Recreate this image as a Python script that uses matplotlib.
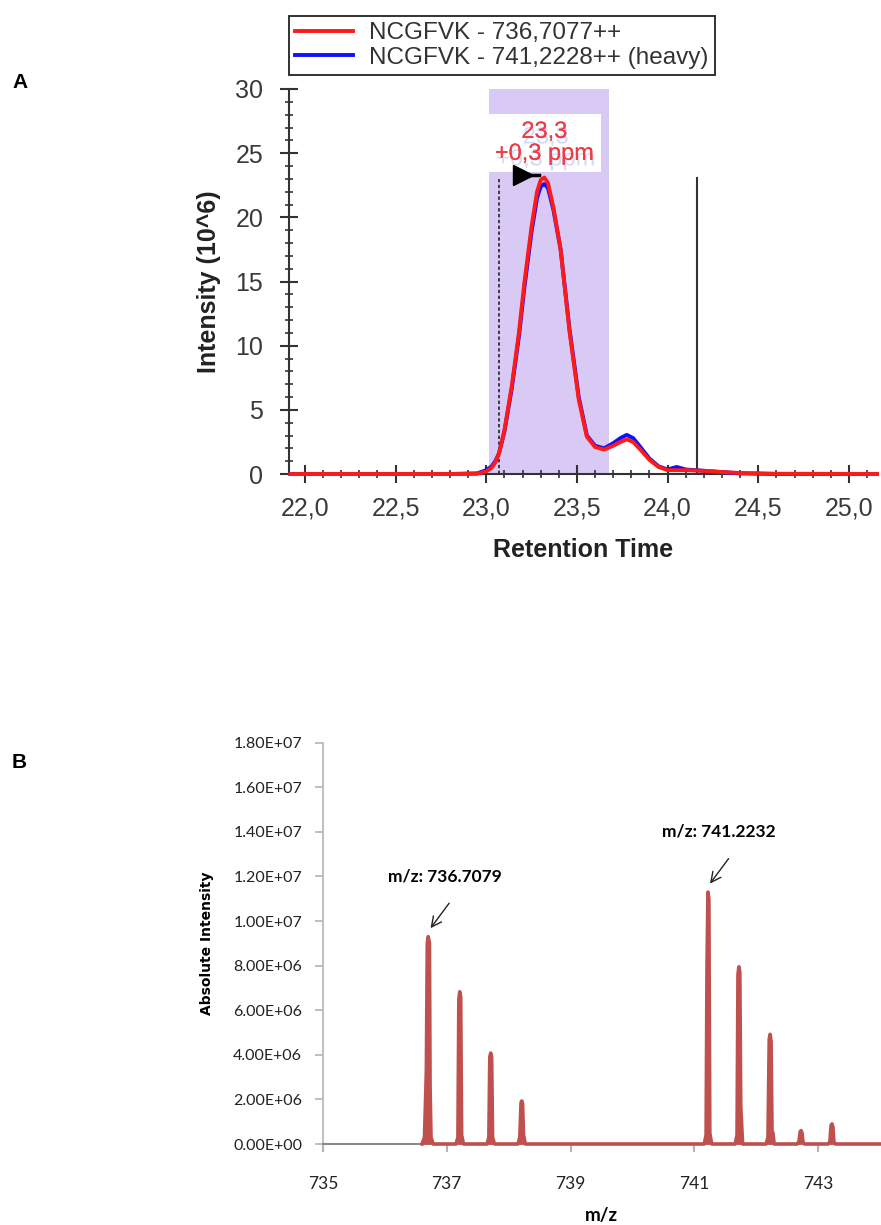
import numpy as np
import matplotlib.pyplot as plt
import matplotlib.patheffects as pe
from matplotlib.ticker import MultipleLocator, FuncFormatter

plt.rcParams['font.family'] = ['Liberation Sans', 'DejaVu Sans']

# ---------------- panel A : extracted ion chromatogram ----------------
rt = [21.92, 22.2, 22.5, 22.8, 22.95, 23.0, 23.03, 23.05, 23.07, 23.1, 23.14, 23.18,
      23.21, 23.25, 23.28, 23.30, 23.32, 23.34, 23.37, 23.41, 23.46, 23.51, 23.555,
      23.6, 23.65, 23.7, 23.74, 23.775, 23.81, 23.85, 23.9, 23.95, 24.0, 24.05, 24.1,
      24.2, 24.3, 24.4, 24.6, 25.155]
light_int = [0, 0, 0, 0, 0.02, 0.2, 0.5, 0.9, 1.6, 3.4, 6.8, 11.0,
             14.9, 19.3, 22.0, 22.9, 23.1, 22.7, 20.8, 17.5, 11.0, 5.8, 2.9,
             2.1, 1.9, 2.2, 2.5, 2.7, 2.5, 1.9, 1.1, 0.55, 0.3, 0.3, 0.3,
             0.25, 0.15, 0.08, 0.02, 0]
heavy_int = [0, 0, 0, 0, 0.05, 0.3, 0.6, 1.0, 1.6, 3.3, 6.6, 10.7,
             14.5, 18.9, 21.5, 22.4, 22.6, 22.3, 20.6, 17.5, 11.2, 6.0, 3.0,
             2.2, 2.0, 2.4, 2.8, 3.05, 2.8, 2.1, 1.2, 0.6, 0.35, 0.55, 0.35,
             0.25, 0.15, 0.05, 0.0, 0]
light_label = "NCGFVK - 736,7077++"
heavy_label = "NCGFVK - 741,2228++ (heavy)"
integration = (23.015, 23.675)
apex_rt, apex_int = 23.32, 23.1
apex_text = "23,3\n+0,3 ppm"
id_rt = 23.07
next_rt = 24.164

# ---------------- panel B : MS1 spectrum ----------------
mz = [736.60, 736.64, 736.670, 736.685, 736.700, 736.720, 736.730, 736.745, 736.78,
      737.15, 737.18, 737.195, 737.210, 737.225, 737.240, 737.27,
      737.65, 737.68, 737.695, 737.710, 737.725, 737.740, 737.77,
      738.15, 738.18, 738.200, 738.212, 738.225, 738.240, 738.27,
      741.16, 741.19, 741.205, 741.220, 741.235, 741.250, 741.28,
      741.66, 741.69, 741.705, 741.720, 741.735, 741.750, 741.78,
      742.16, 742.19, 742.210, 742.225, 742.240, 742.255, 742.270, 742.29,
      742.66, 742.69, 742.710, 742.725, 742.740, 742.755, 742.78,
      743.16, 743.19, 743.210, 743.225, 743.240, 743.255, 743.28, 744.0]
intensity = [0, 0.3e6, 3.3e6, 9.0e6, 9.3e6, 9.0e6, 2.6e6, 0.3e6, 0,
             0, 0.3e6, 6.5e6, 6.83e6, 6.6e6, 0.4e6, 0,
             0, 0.3e6, 3.9e6, 4.08e6, 3.9e6, 0.3e6, 0,
             0, 0.3e6, 1.85e6, 1.93e6, 1.8e6, 0.4e6, 0,
             0, 0.4e6, 8.1e6, 11.3e6, 11.0e6, 0.5e6, 0,
             0, 0.4e6, 7.6e6, 7.95e6, 7.7e6, 1.7e6, 0,
             0, 0.3e6, 4.7e6, 4.92e6, 4.6e6, 0.6e6, 0.5e6, 0,
             0, 0.1e6, 0.55e6, 0.6e6, 0.5e6, 0.1e6, 0,
             0, 0.1e6, 0.85e6, 0.9e6, 0.75e6, 0.1e6, 0, 0]
light_mz, light_peak = 736.7079, 9.3e6
heavy_mz, heavy_peak = 741.2232, 11.3e6

fig = plt.figure(figsize=(8.81, 12.25), dpi=100)

# ---------- A ----------
axA = fig.add_axes([289 / 881, 1 - 474 / 1225, 588 / 881, 385 / 1225])
axA.axvspan(integration[0], integration[1], color='#d9c9f5', lw=0, zorder=0)
axA.plot(rt, heavy_int, color='#1010ff', lw=2.8, clip_on=False, zorder=3)
axA.plot(rt, light_int, color='#ff1a1a', lw=2.8, clip_on=False, zorder=4)
axA.plot([id_rt, id_rt], [0, 23.1], color='#222222', ls=(0, (2, 1.5)), lw=1.2, zorder=2)
axA.plot([next_rt, next_rt], [0, 23.1], color='#333333', lw=1.5, zorder=2)

axA.text(apex_rt, 25.8, apex_text, color='#ee3b45', ha='center', va='center',
         fontsize=17, linespacing=1.0, zorder=6,
         bbox=dict(fc='white', ec='none', pad=5),
         path_effects=[pe.withSimplePatchShadow(offset=(1, -4), shadow_rgbFace='#9ab0e8', alpha=0.45),
                       pe.Normal()])
axA.plot([23.20, 23.29], [apex_int + 0.2, apex_int + 0.2], color='black', lw=2.5, zorder=6)
axA.plot([23.20], [apex_int + 0.2], marker='>', color='black', ms=14, zorder=6)

axA.set_xlim(21.912, 25.155)
axA.set_ylim(0, 30)
axA.spines['top'].set_visible(False)
axA.spines['right'].set_visible(False)
for s in ['left', 'bottom']:
    axA.spines[s].set_color('#333333')
    axA.spines[s].set_linewidth(1.5)
axA.xaxis.set_major_locator(MultipleLocator(0.5))
axA.xaxis.set_minor_locator(MultipleLocator(0.1))
axA.yaxis.set_major_locator(MultipleLocator(5))
axA.yaxis.set_minor_locator(MultipleLocator(1))
comma = FuncFormatter(lambda v, p: "{:.1f}".format(v).replace('.', ','))
axA.xaxis.set_major_formatter(comma)
axA.yaxis.set_major_formatter(FuncFormatter(lambda v, p: "{:d}".format(int(round(v)))))
axA.tick_params(which='major', direction='inout', length=13, width=1.5, color='#333333',
                labelsize=18, labelcolor='#3a3a3a')
axA.tick_params(which='minor', direction='inout', length=6, width=1.2, color='#333333')
axA.tick_params(axis='x', which='major', pad=10)
axA.tick_params(axis='y', which='major', pad=12)
axA.set_xlabel("Retention Time", fontsize=18, fontweight='bold', color='#222222', labelpad=12)
axA.set_ylabel("Intensity (10^6)", fontsize=18, fontweight='bold', color='#222222', labelpad=10)

handles = [plt.Line2D([], [], color='#ff1a1a', lw=2.8),
           plt.Line2D([], [], color='#1010ff', lw=2.8)]
leg = fig.legend(handles, [light_label, heavy_label], loc='upper left',
                 bbox_to_anchor=(289 / 881, 1 - 16 / 1225), fontsize=17.5,
                 frameon=True, fancybox=False, edgecolor='#222222', framealpha=1,
                 handlelength=2.4, handletextpad=0.65, labelspacing=0.1,
                 borderpad=0.25, borderaxespad=0)
leg.get_frame().set_linewidth(1.3)
for t in leg.get_texts():
    t.set_color('#333333')

fig.text(12 / 881, 1 - 82 / 1225, "A", fontsize=15, fontweight='bold', va='center')
fig.text(12 / 881, 1 - 763 / 1225, "B", fontsize=15, fontweight='bold', va='center')

# ---------- B ----------
red = '#c0504d'
axB = fig.add_axes([323 / 881, 1 - 1144 / 1225, 557 / 881, 401.3 / 1225])
axB.fill_between(mz, 0, intensity, color=red, lw=0, zorder=3)
axB.plot(mz, intensity, color=red, lw=2.6, clip_on=False, zorder=4)
axB.set_xlim(735, 744)
axB.set_ylim(0, 1.8e7)
axB.set_xticks([735, 737, 739, 741, 743])
axB.set_yticks(np.arange(0, 1.81e7, 2e6))
axB.yaxis.set_major_formatter(FuncFormatter(lambda v, p: "{:.2E}".format(v)))
axB.spines['top'].set_visible(False)
axB.spines['right'].set_visible(False)
axB.spines['left'].set_color('#b4b4b4')
axB.spines['left'].set_linewidth(1.2)
axB.spines['bottom'].set_color('#8a8a8a')
axB.spines['bottom'].set_linewidth(1.5)
axB.tick_params(axis='y', direction='out', length=6, color='#b4b4b4', width=1.2, pad=9,
                labelsize=11.5, labelcolor='#222222')
axB.tick_params(axis='x', direction='out', length=6, color='#b4b4b4', width=1.5, pad=17,
                labelsize=12.5, labelcolor='#222222')
for lab in axB.get_xticklabels() + axB.get_yticklabels():
    lab.set_family(['Lato', 'DejaVu Sans'])
axB.set_xlabel("m/z", fontsize=13.5, fontweight='bold', family=['Lato', 'DejaVu Sans'], labelpad=11)
axB.set_ylabel("Absolute Intensity", fontsize=10, fontweight='bold', family='DejaVu Sans', labelpad=14)

for pmz, ph, tx in [(light_mz, light_peak, 0.265), (heavy_mz, heavy_peak, 0.18)]:
    axB.annotate("", xy=(pmz + 0.03, ph + 0.38e6), xytext=(pmz + 0.33, ph + 1.5e6),
                 arrowprops=dict(arrowstyle='->', color='#222222', lw=1, mutation_scale=18,
                                 shrinkA=0, shrinkB=0))
    axB.text(pmz + tx, ph + 2.72e6, "m/z: {:.4f}".format(pmz), ha='center', va='center',
             fontsize=12.5, fontweight='bold', family=['Lato', 'DejaVu Sans'])

fig.savefig("out.png", dpi=100)
